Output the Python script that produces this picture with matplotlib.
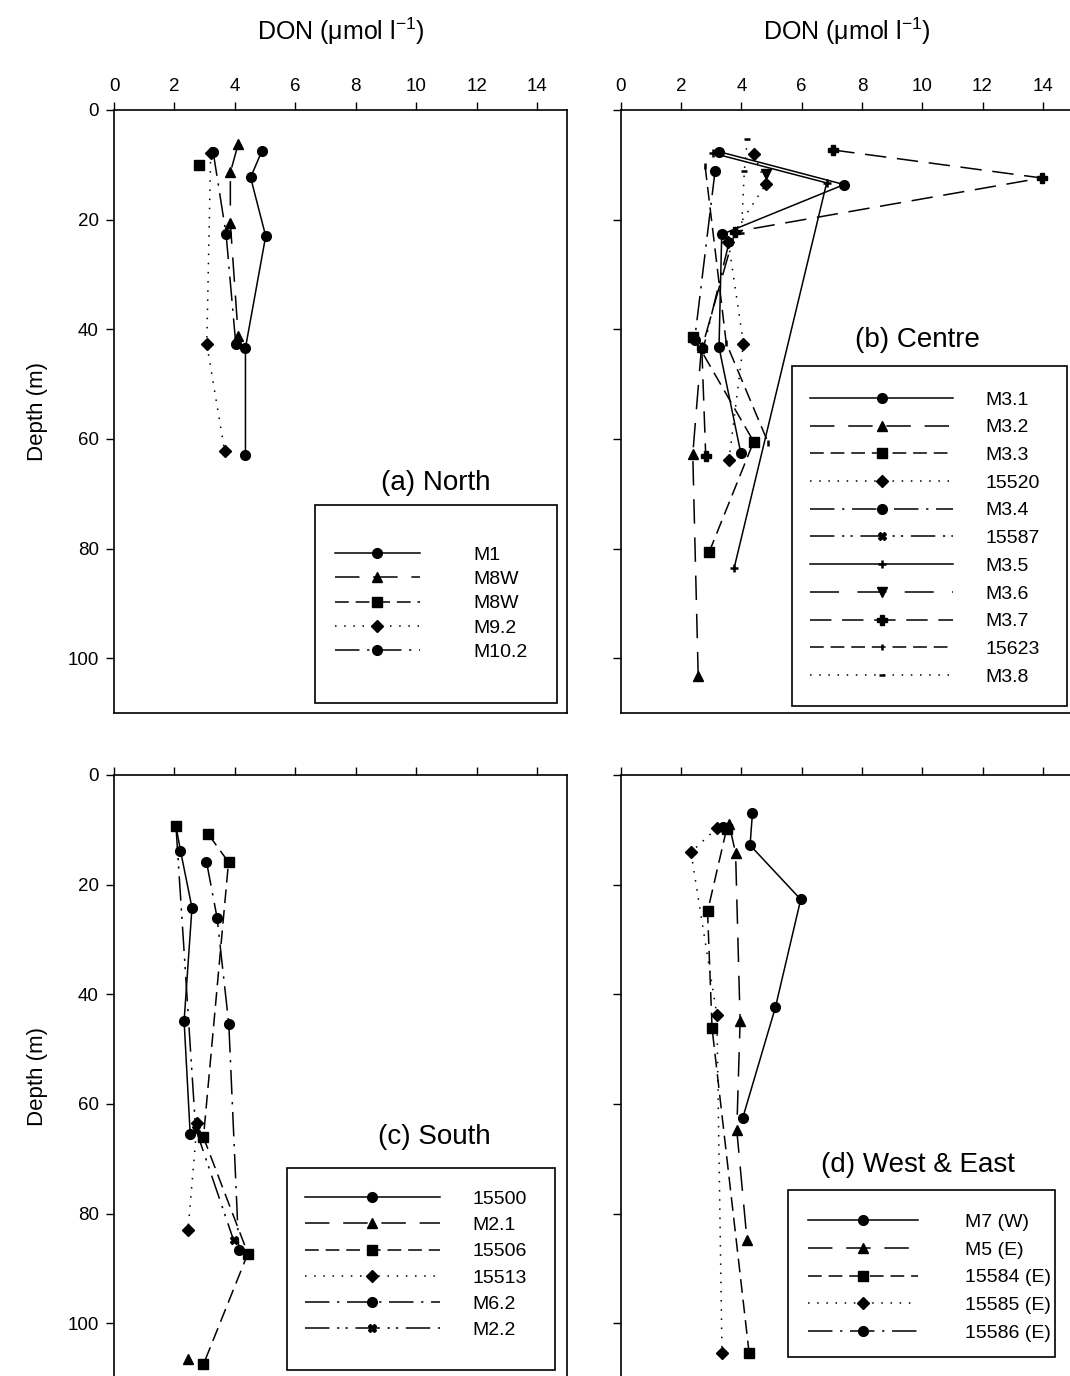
import matplotlib
matplotlib.use("Agg")
import matplotlib.pyplot as plt
from matplotlib.patches import Rectangle

plt.rcParams["font.family"] = ["Liberation Sans", "DejaVu Sans"]
plt.rcParams["mathtext.default"] = "regular"

# ── Data: DON (umol/l) against depth (m) ─────────────────────────────────────

# (a) North
north_labels = ["M1", "M8W", "M8W", "M9.2", "M10.2"]
north_don = [
    [4.90, 4.52, 5.02, 4.35, 4.35],
    [4.11, 3.85, 3.85, 4.11],
    [2.82],
    [3.20, 3.07, 3.66],
    [3.28, 3.71, 4.03],
]
north_depth = [
    [7.4, 12.3, 23.0, 43.4, 63.0],
    [6.2, 11.4, 20.6, 41.2],
    [10.0],
    [7.8, 42.7, 62.2],
    [7.6, 22.7, 42.7],
]

# (b) Centre
centre_labels = ["M3.1", "M3.2", "M3.3", "15520", "M3.4", "15587",
                 "M3.5", "M3.6", "M3.7", "15623", "M3.8"]
centre_don = [
    [3.26, 7.41, 3.35, 3.26, 3.98],
    [2.68, 2.39, 2.57],
    [2.41, 4.41, 2.93],
    [4.42, 4.82, 3.57, 4.07, 3.59],
    [3.13, 2.45],
    [3.60, 2.74],
    [3.07, 6.83, 3.76],
    [4.82],
    [7.05, 13.96, 3.79, 2.69, 2.82],
    [2.80, 3.50, 4.89],
    [4.20, 4.10, 4.00],
]
centre_depth = [
    [7.6, 13.6, 22.7, 43.3, 62.5],
    [43.2, 62.8, 103.2],
    [41.4, 60.5, 80.7],
    [8.1, 13.5, 24.0, 42.6, 63.9],
    [11.1, 42.0],
    [24.0, 43.5],
    [7.9, 13.3, 83.6],
    [11.7],
    [7.3, 12.4, 22.2, 43.5, 63.1],
    [10.3, 42.5, 60.7],
    [5.3, 11.1, 22.5],
]

# (c) South
south_labels = ["15500", "M2.1", "15506", "15513", "M6.2", "M2.2"]
south_don = [
    [2.05, 2.20, 2.58, 2.32, 2.52],
    [2.45],
    [3.12, 3.79, 2.96, 4.43, 2.96],
    [2.75, 2.45],
    [3.06, 3.41, 3.80, 4.13],
    [2.05, 2.70, 3.96],
]
south_depth = [
    [9.3, 13.8, 24.2, 44.9, 65.4],
    [106.5],
    [10.8, 15.9, 66.1, 87.3, 107.5],
    [63.5, 83.0],
    [15.8, 26.0, 45.5, 86.7],
    [9.3, 64.5, 84.9],
]
# the shallowest 15500 sample is drawn with a square symbol in the original
south_square_don = [2.05]
south_square_depth = [9.3]

# (d) West & East
we_labels = ["M7 (W)", "M5 (E)", "15584 (E)", "15585 (E)", "15586 (E)"]
we_don = [
    [4.37, 4.29, 5.97, 5.13, 4.05],
    [3.59, 3.81, 3.96, 3.85, 4.19],
    [3.51, 2.88, 3.03, 4.26],
    [3.20, 2.33, 3.19, 3.36],
    [3.38],
]
we_depth = [
    [6.9, 12.8, 22.7, 42.4, 62.5],
    [8.9, 14.2, 44.9, 64.8, 84.9],
    [9.9, 24.9, 46.2, 105.5],
    [9.6, 14.1, 43.8, 105.5],
    [9.4],
]

# ── Line styles (SigmaPlot-like) ─────────────────────────────────────────────

SOLID = "-"
LONG = (0, (16, 9))
MED = (0, (9, 4.5))
DOT = (0, (1, 5))
DASHDOT = (0, (16, 5, 1.5, 5))
DASHDOTDOT = (0, (16, 5, 1.5, 4, 1.5, 5))
LONGGAP = (0, (19, 12))
DASH2 = (0, (14, 7))

north_styles = [(SOLID, "o"), (LONG, "^"), (MED, "s"), (DOT, "D"), (DASHDOT, "o")]
centre_styles = [(SOLID, "o"), (LONG, "^"), (MED, "s"), (DOT, "D"), (DASHDOT, "o"),
                 (DASHDOTDOT, "X"), (SOLID, "+"), (LONGGAP, "v"), (DASH2, "P"),
                 (MED, "|"), (DOT, "_")]
south_styles = [(SOLID, "o"), (LONG, "^"), (MED, "s"), (DOT, "D"), (DASHDOT, "o"),
                (DASHDOTDOT, "X")]
we_styles = [(SOLID, "o"), (LONG, "^"), (MED, "s"), (DOT, "D"), (DASHDOT, "o")]

MS = {"o": 7, "^": 7, "s": 6.5, "D": 6, "X": 6, "+": 6, "v": 7, "P": 6.5,
      "|": 4, "_": 4}

W, H = 1070, 1376
LEG_FS = 14


def _px_axes(x0, y0, x1, y1):
    """Axes rect from pixel box (top-left origin)."""
    return [x0 / W, 1 - y1 / H, (x1 - x0) / W, (y1 - y0) / H]


def _style_axes(ax, top_labels, left_labels):
    ax.set_xlim(0, 15)
    ax.set_ylim(110, 0)
    ax.set_xticks(range(0, 15, 2))
    ax.set_yticks(range(0, 101, 20))
    ax.xaxis.tick_top()
    ax.tick_params(axis="both", direction="out", length=6, width=1,
                   labelsize=13.5, pad=5)
    ax.tick_params(axis="x", labeltop=top_labels)
    ax.tick_params(axis="y", labelleft=left_labels)
    for sp in ax.spines.values():
        sp.set_linewidth(1.2)
    if top_labels:
        ax.xaxis.set_label_position("top")
        ax.set_xlabel("DON ($\\mu$mol l$^{-1}$)", fontsize=18, labelpad=27)
    if left_labels:
        ax.set_ylabel("Depth (m)", fontsize=16, labelpad=14)


def _draw(ax, labels, dons, depths, styles, markevery=None):
    for i, (lab, x, y, (ls, mk)) in enumerate(zip(labels, dons, depths, styles)):
        me = markevery.get(i) if markevery else None
        ax.plot(x, y, color="black", lw=1.1, ls=ls, marker=mk,
                ms=MS[mk], mew=1.8 if mk in "+|_" else 1,
                markevery=me, label=lab)


def _legend(ax, box, first_row, handlelength, textpad, spacing):
    """Legend entries without frame plus a hand-sized box (axes coords)."""
    x0, y0, x1, y1 = box
    ax.add_patch(Rectangle((x0, y0), x1 - x0, y1 - y0, transform=ax.transAxes,
                           facecolor="white", edgecolor="black", lw=1.2,
                           zorder=4))
    leg = ax.legend(loc="upper left", bbox_to_anchor=first_row, fontsize=LEG_FS,
                    frameon=False, handlelength=handlelength,
                    handletextpad=textpad, labelspacing=spacing, borderpad=0,
                    borderaxespad=0, numpoints=1)
    leg.set_zorder(5)
    return leg


fig = plt.figure(figsize=(W / 100, H / 100), dpi=100)

ax_a = fig.add_axes(_px_axes(114, 110, 567.3, 713))
ax_b = fig.add_axes(_px_axes(620.7, 110, 1073, 713))
ax_c = fig.add_axes(_px_axes(114, 775, 567.3, 1378))
ax_d = fig.add_axes(_px_axes(620.7, 775, 1073, 1378))

_style_axes(ax_a, True, True)
_style_axes(ax_b, True, False)
_style_axes(ax_c, False, True)
_style_axes(ax_d, False, False)

_draw(ax_a, north_labels, north_don, north_depth, north_styles)
_draw(ax_b, centre_labels, centre_don, centre_depth, centre_styles)
_draw(ax_c, south_labels, south_don, south_depth, south_styles,
      markevery={0: slice(1, None)})
ax_c.plot(south_square_don, south_square_depth, ls="none", marker="s",
          ms=MS["s"], color="black")
_draw(ax_d, we_labels, we_don, we_depth, we_styles)

_legend(ax_a, (0.443, 0.017, 0.977, 0.345), (0.4875, 0.277), 4.37, 2.73, 0.35)
_legend(ax_b, (0.379, 0.012, 0.987, 0.576), (0.4185, 0.534), 7.36, 1.65, 0.52)
_legend(ax_c, (0.382, 0.013, 0.973, 0.348), (0.421, 0.311), 6.94, 1.70, 0.44)
_legend(ax_d, (0.370, 0.035, 0.960, 0.311), (0.414, 0.273), 5.66, 2.40, 0.52)

title_kw = dict(fontsize=20, ha="center", va="center")
ax_a.text(0.71, 0.381, "(a) North", transform=ax_a.transAxes, **title_kw)
ax_b.text(0.657, 0.619, "(b) Centre", transform=ax_b.transAxes, **title_kw)
ax_c.text(0.706, 0.399, "(c) South", transform=ax_c.transAxes, **title_kw)
ax_d.text(0.657, 0.353, "(d) West & East", transform=ax_d.transAxes, **title_kw)

fig.savefig("out.png", dpi=100)
